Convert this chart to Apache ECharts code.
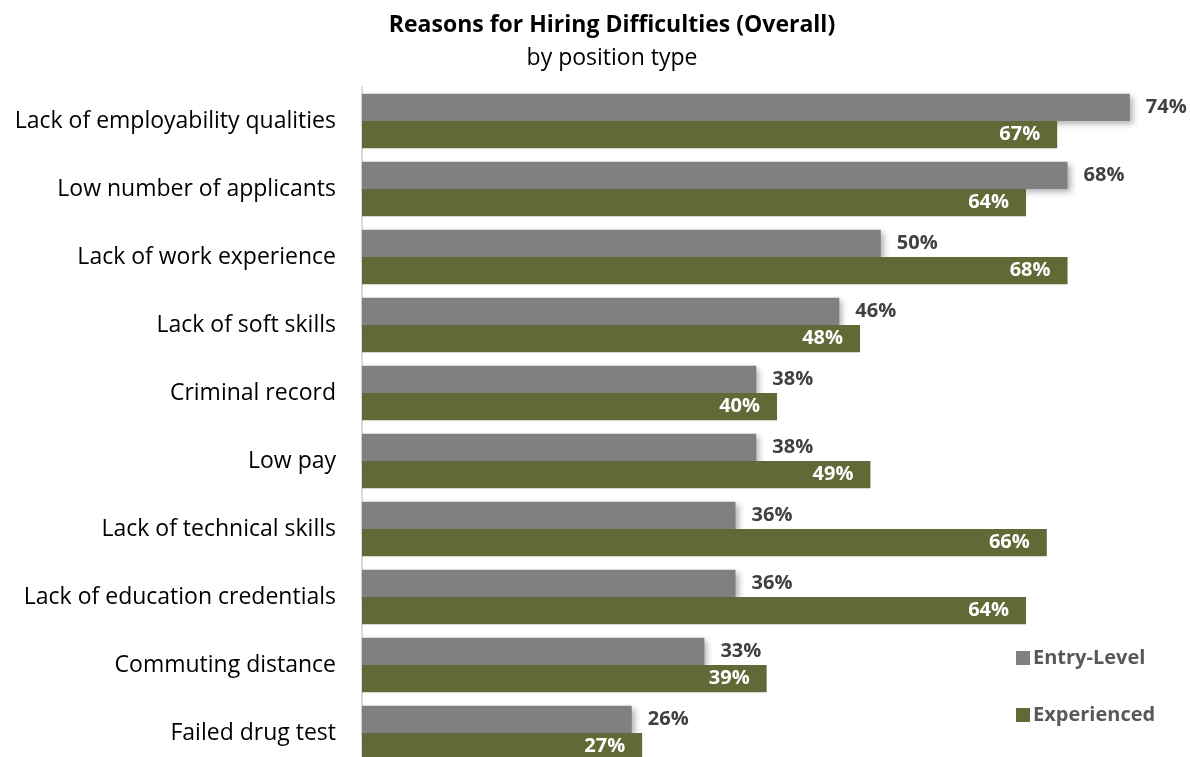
<!DOCTYPE html>
<html>
<head>
<meta charset="utf-8">
<script src="https://cdn.jsdelivr.net/npm/echarts@6/dist/echarts.min.js"></script>
<style>
  html, body { margin: 0; padding: 0; background: #fff; overflow: hidden; }
  /* drawn 10px taller than the window so the last bar runs off the bottom edge */
  #chart { width: 1190px; height: 767px; }
</style>
</head>
<body>
<div id="chart"></div>
<script>
// categories, top to bottom
var categories = [
  'Lack of employability qualities',
  'Low number of applicants',
  'Lack of work experience',
  'Lack of soft skills',
  'Criminal record',
  'Low pay',
  'Lack of technical skills',
  'Lack of education credentials',
  'Commuting distance',
  'Failed drug test'
];
var entryLevel = [74, 68, 50, 46, 38, 38, 36, 36, 33, 26];
var experienced = [67, 64, 68, 48, 40, 49, 66, 64, 39, 27];

var chart = echarts.init(document.getElementById('chart'));

var option = {
  textStyle: { fontFamily: 'Open Sans' },
  title: {
    text: 'Reasons for Hiring Difficulties (Overall)',
    subtext: 'by position type',
    left: 607,
    textAlign: 'center',
    top: 9,
    itemGap: 10,
    textStyle: { fontSize: 23, fontWeight: 'bold', color: '#000', fontFamily: 'Open Sans' },
    subtextStyle: { fontSize: 23, color: '#000', fontFamily: 'Open Sans' }
  },
  legend: {
    orient: 'vertical',
    left: 1011,
    top: 643,
    itemGap: 37,
    itemWidth: 14,
    itemHeight: 14,
    icon: 'rect',
    textStyle: { fontSize: 20, fontWeight: 'bold', color: '#595959', fontFamily: 'Open Sans', padding: [0, 0, 0, -2] },
    data: ['Entry-Level', 'Experienced']
  },
  grid: {
    left: 362,
    right: 0,
    top: 87,
    bottom: 0,
    containLabel: false
  },
  xAxis: {
    type: 'value',
    min: 0,
    max: 79.8,
    show: false
  },
  yAxis: {
    type: 'category',
    inverse: true,
    data: categories,
    axisLine: { show: true, lineStyle: { color: '#d9d9d9', width: 2 } },
    axisTick: { show: false },
    axisLabel: { fontSize: 23, color: '#000', margin: 26, fontFamily: 'Open Sans' }
  },
  series: [{
    name: 'Entry-Level',
    type: 'bar',
    data: entryLevel,
    barGap: '0%',
    barCategoryGap: '20%',
    itemStyle: {
      color: '#808080',
      shadowBlur: 6,
      shadowOffsetX: 3,
      shadowOffsetY: 3,
      shadowColor: 'rgba(0,0,0,0.3)'
    },
    label: {
      show: true,
      position: 'right',
      distance: 16,
      formatter: '{c}%',
      fontSize: 20,
      fontWeight: 'bold',
      color: '#404040',
      fontFamily: 'Open Sans'
    }
  }, {
    name: 'Experienced',
    type: 'bar',
    data: experienced,
    barGap: '0%',
    barCategoryGap: '20%',
    itemStyle: { color: '#616a36' },
    label: {
      show: true,
      position: 'insideRight',
      distance: 17,
      formatter: '{c}%',
      fontSize: 20,
      fontWeight: 'bold',
      color: '#fff',
      fontFamily: 'Open Sans'
    }
  }]
};

chart.setOption(option);
</script>
</body>
</html>
